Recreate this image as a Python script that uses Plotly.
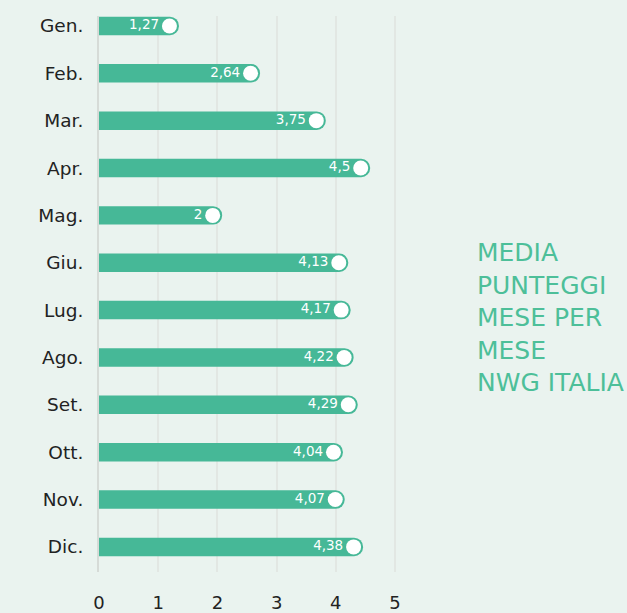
import plotly.graph_objects as go

months = ["Gen.", "Feb.", "Mar.", "Apr.", "Mag.", "Giu.", "Lug.", "Ago.", "Set.", "Ott.", "Nov.", "Dic."]
scores = [1.27, 2.64, 3.75, 4.5, 2, 4.13, 4.17, 4.22, 4.29, 4.04, 4.07, 4.38]
labels = ["1,27", "2,64", "3,75", "4,5", "2", "4,13", "4,17", "4,22", "4,29", "4,04", "4,07", "4,38"]
x_ticks = [0, 1, 2, 3, 4, 5]
title_lines = ["MEDIA", "PUNTEGGI", "MESE PER", "MESE", "NWG ITALIA"]

BG = "#eaf3ef"
BAR = "#46b897"
FONT = "DejaVu Sans"

cap = 0.08      # rounded cap extends slightly beyond value
dot_back = 0.08  # dot center sits slightly inside value

fig = go.Figure()
fig.add_trace(go.Bar(
    y=months, x=[v + cap for v in scores], orientation="h",
    marker=dict(color=BAR, line=dict(width=0)),
    width=0.39, hoverinfo="skip",
))
fig.add_trace(go.Scatter(
    y=months, x=[v - dot_back for v in scores],
    mode="markers+text",
    marker=dict(color="white", size=15, line=dict(width=0)),
    text=labels, textposition="middle left",
    textfont=dict(color="white", size=13.5, family=FONT),
    hoverinfo="skip",
))

fig.update_layout(
    width=627, height=613,
    paper_bgcolor=BG, plot_bgcolor=BG,
    margin=dict(l=99, r=627 - 398, t=16, b=613 - 572, autoexpand=False),
    showlegend=False,
    barcornerradius=9,
    font=dict(family=FONT, color="#222222"),
    xaxis=dict(
        range=[0, 5.05], tickvals=x_ticks, ticktext=[str(t) for t in x_ticks],
        showgrid=True, gridcolor="#e2e7e3", gridwidth=1.5,
        zeroline=False, showline=False, automargin=False,
        ticks="outside", ticklen=14, tickcolor=BG,
        tickfont=dict(size=18, color="#222222", family=FONT),
    ),
    yaxis=dict(
        range=[11.53, -0.21], showgrid=False, zeroline=False,
        showline=True, linecolor="#d6dbd7", linewidth=2, automargin=False,
        ticks="outside", ticklen=10, tickcolor=BG,
        tickfont=dict(size=18.5, color="#222222", family=FONT),
    ),
)

fig.add_annotation(
    xref="paper", yref="paper", x=(475 - 99) / (398 - 99), y=1 - (236 - 16) / (572 - 16),
    xanchor="left", yanchor="top", align="left", showarrow=False,
    text="<br>".join(title_lines),
    font=dict(size=25, color="#4dbf99", family=FONT),
)

fig.write_html(
    "out.html",
    config={"displayModeBar": False},
    post_script="document.body.style.margin='0';document.body.style.background='%s';" % BG,
)
